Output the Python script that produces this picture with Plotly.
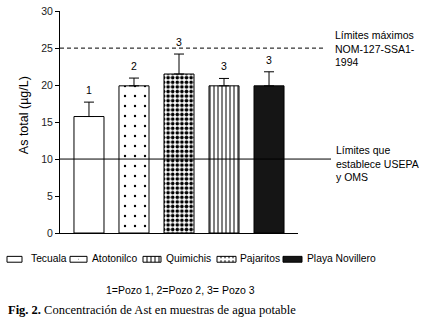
import plotly.graph_objects as go

# ---------------- data ----------------
categories = ["Tecuala", "Atotonilco", "Quimichis", "Pajaritos", "Playa Novillero"]
means = [15.75, 19.9, 21.5, 19.9, 19.9]
errors = [1.95, 1.05, 2.7, 1.0, 1.9]
well_labels = ["1", "2", "3", "3", "3"]
limit_nom = 25
limit_usepa = 10
yticks = [0, 5, 10, 15, 20, 25, 30]
legend_names = ["Tecuala", "Atotonilco", "Quimichis", "Pajaritos", "Playa Novillero"]

# bar styles (fill, pattern shape, pattern size, solidity)
bar_fill = ["white", "white", "white", "white", "#151515"]
bar_shape = ["", ".", ".", "|", ""]
bar_psize = [8, 10, 4.6, 4, 8]
bar_solid = [0.1, 0.045, 0.5, 0.25, 0.1]

# ---------------- layout helpers ----------------
W, H = 424, 320
L, R, T, B = 60, 298, 5, 233


def px(x):
    return (x - L) / (R - L)


def py(y):
    return (B - y) / (B - T)


SANS = "Liberation Sans, Arial, sans-serif"
SERIF = "Liberation Serif, Times New Roman, serif"

fig = go.Figure()
for i, c in enumerate(categories):
    marker = dict(color=bar_fill[i], line=dict(color="black", width=1))
    if bar_shape[i]:
        marker["pattern"] = dict(shape=bar_shape[i], size=bar_psize[i],
                                 solidity=bar_solid[i], fgcolor="black",
                                 bgcolor="white", fgopacity=1,
                                 fillmode="replace")
    fig.add_trace(go.Bar(
        x=[c], y=[means[i]], width=0.667, marker=marker,
        error_y=dict(type="data", symmetric=False, array=[errors[i]],
                     arrayminus=[0], color="black", thickness=1, width=5),
        showlegend=False, hoverinfo="skip",
    ))

shapes = [
    dict(type="line", xref="paper", yref="y", x0=0, x1=px(326),
         y0=limit_nom, y1=limit_nom,
         line=dict(color="black", width=1, dash="4px,3px")),
    dict(type="line", xref="paper", yref="y", x0=0, x1=px(331),
         y0=limit_usepa, y1=limit_usepa,
         line=dict(color="black", width=1)),
]

annotations = []
for c, m, e, lab in zip(categories, means, errors, well_labels):
    annotations.append(dict(x=c, y=m + e, xref="x", yref="y", text=lab,
                            showarrow=False, yanchor="bottom", yshift=4,
                            font=dict(family=SANS, size=10.5, color="black")))

annotations += [
    dict(xref="paper", yref="y", x=px(333), y=limit_nom, xanchor="left",
         yanchor="middle", align="left", showarrow=False,
         text="Límites máximos<br>NOM-127-SSA1-<br>1994",
         font=dict(family=SANS, size=10.5, color="black")),
    dict(xref="paper", yref="y", x=px(334), y=limit_usepa, yshift=-4,
         xanchor="left", yanchor="middle", align="left", showarrow=False,
         text="Límites que<br>establece USEPA<br>y OMS",
         font=dict(family=SANS, size=10.5, color="black")),
    dict(xref="paper", yref="paper", x=px(24), y=py(112), textangle=-90,
         xanchor="center", yanchor="middle", showarrow=False,
         text="As total (µg/L)",
         font=dict(family=SANS, size=12.5, color="black")),
    dict(xref="paper", yref="paper", x=px(104), y=py(292), xanchor="left",
         yanchor="middle", showarrow=False,
         text="1=Pozo 1, 2=Pozo 2, 3= Pozo 3",
         font=dict(family=SANS, size=10.5, color="black")),
    dict(xref="paper", yref="paper", x=px(6), y=py(312), xanchor="left",
         yanchor="middle", showarrow=False,
         text="<b>Fig. 2.</b> Concentración de Ast en muestras de agua potable",
         font=dict(family=SERIF, size=12.5, color="black")),
]

# ---------------- manual legend ----------------
icon_x = [(7, 22), (70, 87), (143, 161), (217, 236), (283, 302)]
text_x = [29, 90, 164, 238, 305]
styles = ["plain", "sparse", "vlines", "dots", "black"]
y0i, y1i, yc = 257, 263, 259.5
for (a, b), tx, st, name in zip(icon_x, text_x, styles, legend_names):
    shapes.append(dict(type="rect", xref="paper", yref="paper",
                       x0=px(a), x1=px(b), y0=py(y1i), y1=py(y0i),
                       fillcolor="#151515" if st == "black" else "white",
                       line=dict(color="black", width=1)))
    if st == "vlines":
        xx = a + 4
        while xx < b - 1:
            shapes.append(dict(type="line", xref="paper", yref="paper",
                               x0=px(xx), x1=px(xx), y0=py(y1i), y1=py(y0i),
                               line=dict(color="black", width=1)))
            xx += 4
    if st == "dots":
        xx = a + 4
        while xx < b - 1:
            shapes.append(dict(type="line", xref="paper", yref="paper",
                               x0=px(xx), x1=px(xx), y0=py(y1i), y1=py(y1i - 2),
                               line=dict(color="black", width=1)))
            shapes.append(dict(type="line", xref="paper", yref="paper",
                               x0=px(xx), x1=px(xx), y0=py(y0i + 2), y1=py(y0i),
                               line=dict(color="black", width=1)))
            xx += 4
    if st == "sparse":
        shapes.append(dict(type="rect", xref="paper", yref="paper",
                           x0=px(78), x1=px(79), y0=py(260.5), y1=py(259.5),
                           fillcolor="#999", line=dict(width=0)))
    annotations.append(dict(xref="paper", yref="paper", x=px(tx), y=py(yc),
                            xanchor="left", yanchor="middle", showarrow=False,
                            text=name,
                            font=dict(family=SANS, size=10.3, color="black")))

fig.update_layout(
    width=W, height=H,
    margin=dict(l=L, r=W - R, t=T, b=H - B, pad=0),
    paper_bgcolor="white", plot_bgcolor="white",
    barmode="overlay",
    xaxis=dict(range=[-0.644, 4.644], showticklabels=False, ticks="",
               showgrid=False, zeroline=False, showline=True,
               linecolor="black", linewidth=1, fixedrange=True,
               categoryorder="array", categoryarray=categories),
    yaxis=dict(range=[0, 30.02], tickvals=yticks, ticks="outside", ticklen=4,
               tickcolor="black", showgrid=False, zeroline=False,
               showline=True, linecolor="black", linewidth=1,
               ticklabeloverflow="allow",
               tickfont=dict(family=SANS, size=10.5, color="#222"),
               fixedrange=True),
    shapes=shapes, annotations=annotations, showlegend=False,
)

fig.write_html("out.html", config=dict(displayModeBar=False),
               post_script="document.body.style.margin='0';"
                           "document.body.style.overflow='hidden';")
